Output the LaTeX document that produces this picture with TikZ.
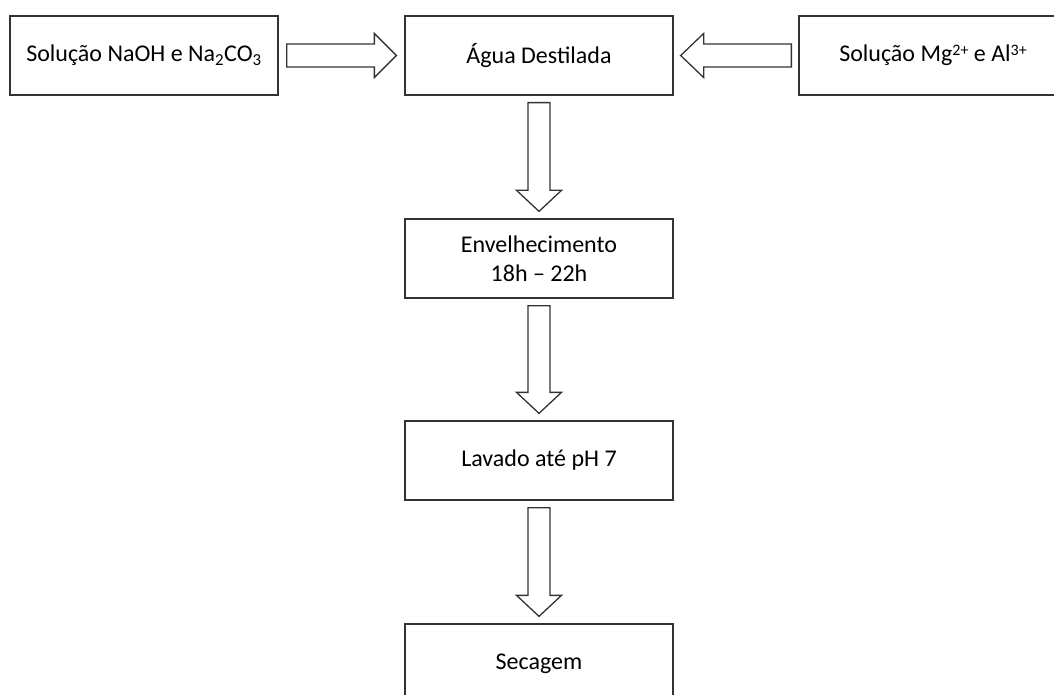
\documentclass[tikz,border=0pt]{standalone}
\usepackage{fontspec}
\setmainfont{Carlito}
\usetikzlibrary{calc}

\tikzset{
  stepbox/.style={draw=black!80, line width=1.3pt, minimum width=268pt, minimum height=79pt,
    align=center, inner sep=2pt, font=\fontsize{24}{29}\selectfont},
  blockarr/.style={draw=black!80, line width=1.3pt, fill=white, line join=miter}
}

% ion charge, set a bit lower than \textsuperscript
\newcommand{\ioncharge}[1]{\raisebox{0.55ex}{\fontsize{16}{16}\selectfont #1}}

% hollow block arrows between two named boxes
\newcommand{\blockdown}[2]{%
  \draw[blockarr] let \p1=(#1.south), \p2=(#2.north) in
    (\x1-11pt,\y1-7pt) -- (\x1+11pt,\y1-7pt) -- (\x1+11pt,\y2+28pt) -- (\x1+22.5pt,\y2+28pt)
    -- (\x1,\y2+7pt) -- (\x1-22.5pt,\y2+28pt) -- (\x1-11pt,\y2+28pt) -- cycle;}
\newcommand{\blockright}[2]{%
  \draw[blockarr] let \p1=(#1.east), \p2=(#2.west) in
    (\x1+8pt,\y1+11.5pt) -- (\x2-30pt,\y1+11.5pt) -- (\x2-30pt,\y1+22pt) -- (\x2-8pt,\y1)
    -- (\x2-30pt,\y1-22pt) -- (\x2-30pt,\y1-11.5pt) -- (\x1+8pt,\y1-11.5pt) -- cycle;}
\newcommand{\blockleft}[2]{%
  \draw[blockarr] let \p1=(#1.west), \p2=(#2.east) in
    (\x1-7pt,\y1+11.5pt) -- (\x2+30pt,\y1+11.5pt) -- (\x2+30pt,\y1+22pt) -- (\x2+7pt,\y1)
    -- (\x2+30pt,\y1-22pt) -- (\x2+30pt,\y1-11.5pt) -- (\x1-7pt,\y1-11.5pt) -- cycle;}

\begin{document}
\begin{tikzpicture}[x=1pt, y=1pt]
  \fill[white] (0,0) rectangle (1054,-695);
  \useasboundingbox (0,0) rectangle (1054,-695);

  \node[stepbox] (naoh) at (144,-55.5) {Solução NaOH e Na\textsubscript{2}CO\textsubscript{3}};
  \node[stepbox] (agua) at (539,-55.5) {Água Destilada};
  \node[stepbox] (mgal) at (933,-55.5) {Solução Mg\ioncharge{2+} e Al\ioncharge{3+}};
  \node[stepbox] (envelh) at (539,-258.5) {Envelhecimento\\18h -- 22h};
  \node[stepbox] (lavado) at (539,-460.5) {Lavado até pH 7};
  \node[stepbox] (secagem) at (539,-663.5) {Secagem};

  \blockright{naoh}{agua}
  \blockleft{mgal}{agua}
  \blockdown{agua}{envelh}
  \blockdown{envelh}{lavado}
  \blockdown{lavado}{secagem}

\end{tikzpicture}
\end{document}
